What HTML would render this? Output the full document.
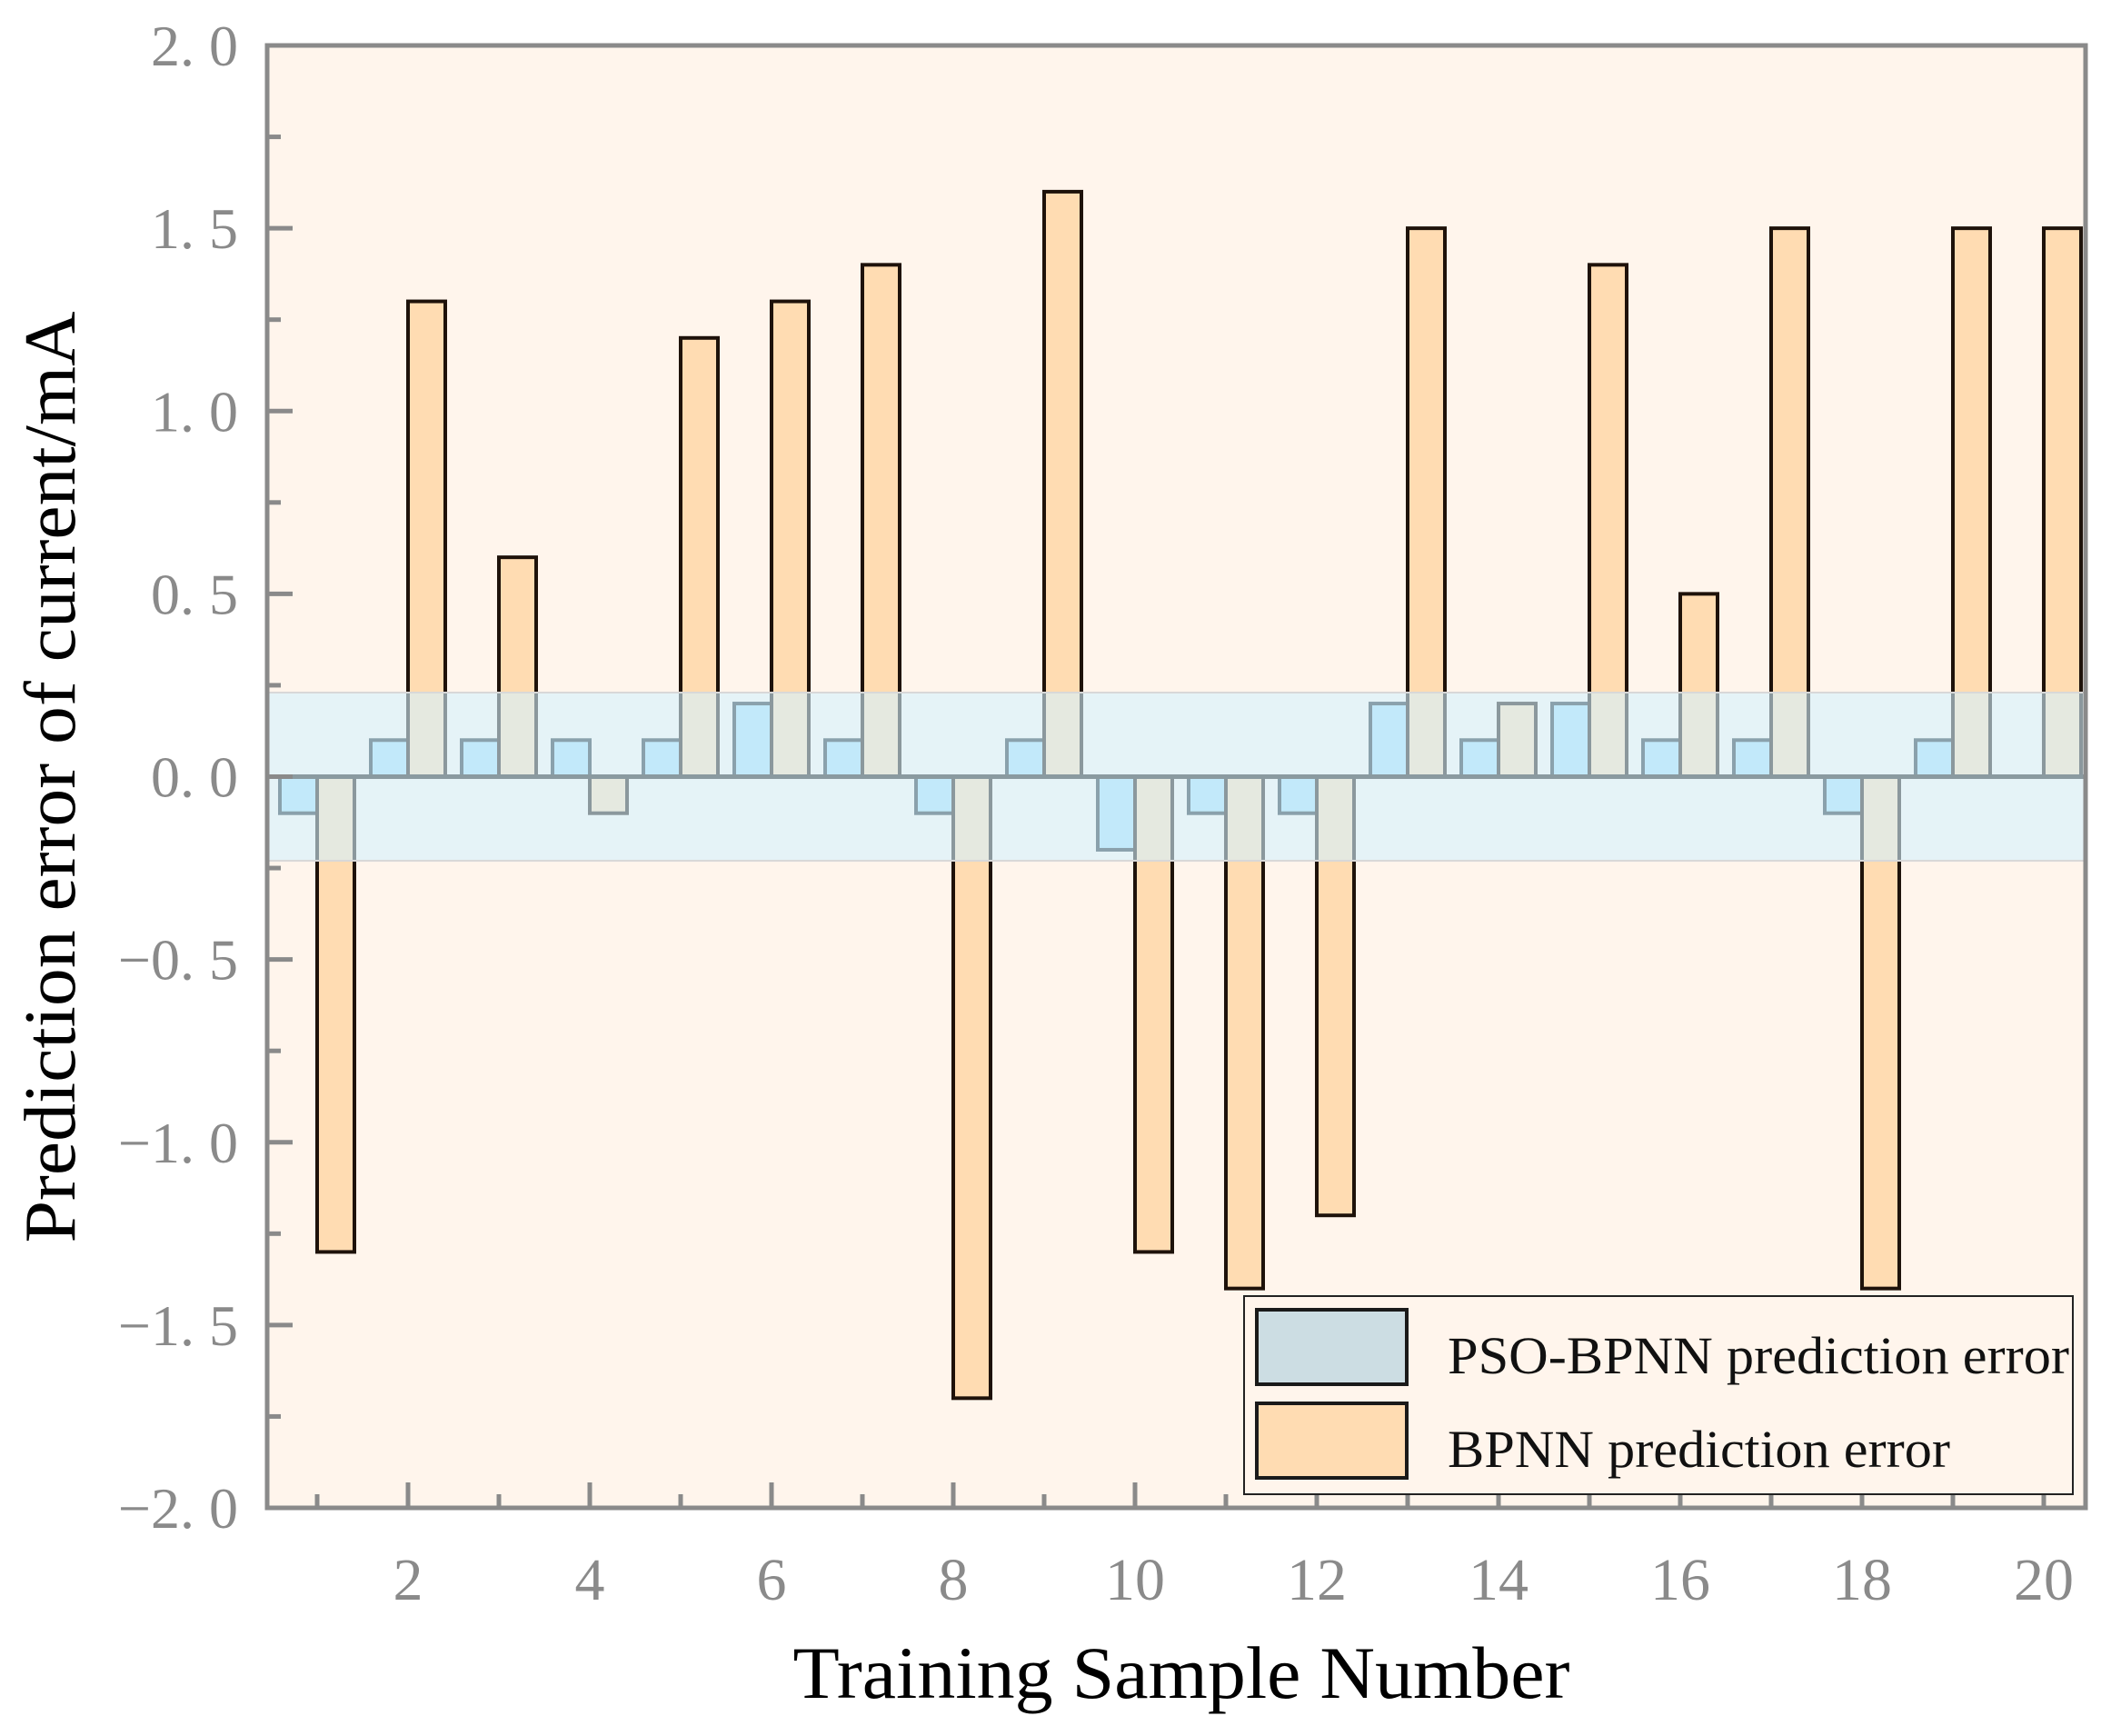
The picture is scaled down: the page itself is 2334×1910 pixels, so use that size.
<!DOCTYPE html>
<html><head><meta charset="utf-8"><style>
html,body{margin:0;padding:0;background:#fff;}
svg{display:block;}
text{font-family:"Liberation Serif",serif;}
</style></head><body>
<svg id="chart" width="2334" height="1910" viewBox="0 0 2334 1910" xmlns="http://www.w3.org/2000/svg">
<rect x="294" y="50" width="2001" height="1609" fill="#fff5ec"/>
<g id="bars"></g>
<rect id="band" fill="#d4f1ff" fill-opacity="0.6" stroke="#d8d8d8" stroke-width="2"/>
<line id="zero" stroke="#8a9aa0" stroke-width="5"/>
<g id="axes"></g>
<rect x="294" y="50" width="2001" height="1609" fill="none" stroke="#8a8a8a" stroke-width="5"/>
<g>
<rect x="1369" y="1426" width="912" height="218" fill="#fff5ec" stroke="#222" stroke-width="2"/>
<rect x="1383" y="1441" width="165" height="82" fill="#ccdde3" stroke="#1a1a1a" stroke-width="4"/>
<text x="1593" y="1511" font-size="58" fill="#111" textLength="684" lengthAdjust="spacingAndGlyphs">PSO-BPNN prediction error</text>
<rect x="1383" y="1544" width="165" height="82" fill="#ffdcb2" stroke="#1a1a1a" stroke-width="4"/>
<text x="1593" y="1614" font-size="58" fill="#111" textLength="553" lengthAdjust="spacingAndGlyphs">BPNN prediction error</text>
</g>
<text x="1300" y="1868" font-size="82" text-anchor="middle" fill="#000" textLength="855" lengthAdjust="spacingAndGlyphs">Training Sample Number</text>
<text transform="translate(82,855) rotate(-90)" font-size="80" text-anchor="middle" fill="#000" textLength="1025" lengthAdjust="spacingAndGlyphs">Prediction error of current/mA</text>
</svg>
<script>
const samples = [1,2,3,4,5,6,7,8,9,10,11,12,13,14,15,16,17,18,19,20];
const psoErrors = [-0.1,0.1,0.1,0.1,0.1,0.2,0.1,-0.1,0.1,-0.2,-0.1,-0.1,0.2,0.1,0.2,0.1,0.1,-0.1,0.1,0];
const bpnnErrors = [-1.3,1.3,0.6,-0.1,1.2,1.3,1.4,-1.7,1.6,-1.3,-1.4,-1.2,1.5,0.2,1.4,0.5,1.5,-1.4,1.5,1.5];
const yTicks = [2.0,1.5,1.0,0.5,0.0,-0.5,-1.0,-1.5,-2.0];
const yTickLabels = ["2. 0","1. 5","1. 0","0. 5","0. 0","\u22120. 5","\u22121. 0","\u22121. 5","\u22122. 0"];
const xTickLabels = ["2","4","6","8","10","12","14","16","18","20"];
const bandLimits = [0.23,-0.23];

const NS="http://www.w3.org/2000/svg";
const L=294,R=2295,T=50,B=1659;
const xMin=0.45,xMax=20.46,yMin=-2,yMax=2;
function xs(v){return L+(v-xMin)/(xMax-xMin)*(R-L);}
function ys(v){return B-(v-yMin)/(yMax-yMin)*(B-T);}
function mk(tag,attrs,parent){const e=document.createElementNS(NS,tag);for(const k in attrs)e.setAttribute(k,attrs[k]);parent.appendChild(e);return e;}
const bars=document.getElementById('bars');
const bw=xs(1.41)-xs(1);
samples.forEach((s,i)=>{
  const p=psoErrors[i];
  if(p!==0){
    const r=mk('rect',{x:xs(s)-bw,y:Math.min(ys(p),ys(0)),width:bw,height:Math.abs(ys(p)-ys(0)),fill:'#a9dcf2',stroke:'#1c2a30','stroke-width':4},bars);
    
    
  }
  const b=bpnnErrors[i];
  const r2=mk('rect',{x:xs(s),y:Math.min(ys(b),ys(0)),width:bw,height:Math.abs(ys(b)-ys(0)),fill:'#ffdcb2',stroke:'#1e120a','stroke-width':4},bars);
  
  
});
const band=document.getElementById('band');
band.setAttribute('x',L);band.setAttribute('width',R-L);
band.setAttribute('y',ys(bandLimits[0]));band.setAttribute('height',ys(bandLimits[1])-ys(bandLimits[0]));
const z=document.getElementById('zero');
z.setAttribute('x1',L);z.setAttribute('x2',R);z.setAttribute('y1',ys(0));z.setAttribute('y2',ys(0));
const ax=document.getElementById('axes');
yTicks.forEach((v,i)=>{
  const t=mk('line',{x1:L,x2:L+28,y1:ys(v),y2:ys(v),stroke:'#8a8a8a','stroke-width':5},ax);
  
  
  const tx=mk('text',{x:262,y:ys(v)+22,'font-size':64,'text-anchor':'end',fill:'#8a8a8a'},ax);
  tx.textContent=yTickLabels[i];
  
  
  if(i<yTicks.length-1){
    const m=mk('line',{x1:L,x2:L+15,y1:ys(v-0.25),y2:ys(v-0.25),stroke:'#8a8a8a','stroke-width':5},ax);
    
    
  }
});
samples.forEach(s=>{
  const major=s%2===0;
  const t=mk('line',{x1:xs(s),x2:xs(s),y1:B,y2:B-(major?28:15),stroke:'#8a8a8a','stroke-width':5},ax);
  
  
});
xTickLabels.forEach(lbl=>{
  const tx=mk('text',{x:xs(+lbl),y:1760,'font-size':66,'text-anchor':'middle',fill:'#8a8a8a'},ax);
  tx.textContent=lbl;
  
  
});
</script>
</body></html>
